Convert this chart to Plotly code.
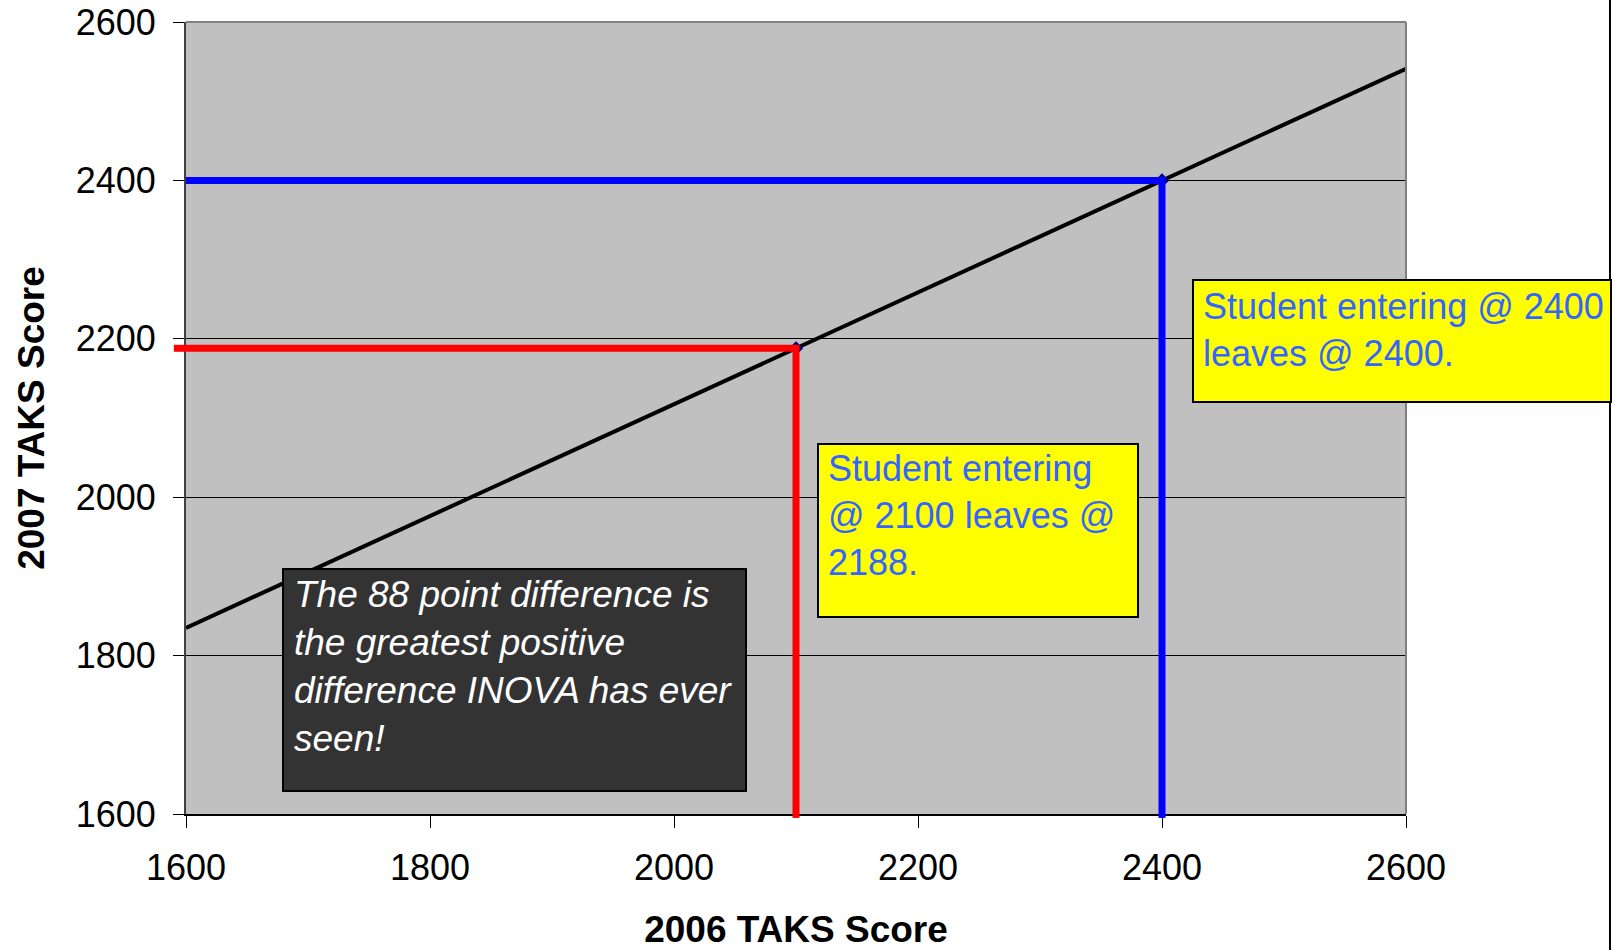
import plotly.graph_objects as go

# Scores for the two highlighted students
score_2006 = [2100, 2400]
score_2007 = [2188, 2400]

# Fitted trend across the plotted range
trend_2006 = [1600, 2600]
trend_2007 = [1835, 2541]

axis_min, axis_max = 1600, 2600
tick_vals = [1600, 1800, 2000, 2200, 2400, 2600]

note_2400 = "Student entering @ 2400<br>leaves @ 2400."
note_2100 = "Student entering<br>@ 2100 leaves @<br>2188."
note_88 = ("<i>The 88 point difference is<br>the greatest positive<br>"
           "difference INOVA has ever<br>seen!</i>")

FONT = "Liberation Sans, Arial, sans-serif"
RED = "#FF0000"
BLUE = "#0000FF"
NOTE_BLUE = "#3366FF"

fig = go.Figure()

fig.add_trace(go.Scatter(
    x=trend_2006, y=trend_2007, mode="lines",
    line=dict(color="black", width=4), hoverinfo="skip"))

fig.add_trace(go.Scatter(
    x=score_2006, y=score_2007, mode="markers",
    marker=dict(symbol="diamond", size=11, color="#000080"),
    cliponaxis=False))

# Guide lines from each student's point to both axes
guide_colors = [RED, BLUE]
for xv, yv, col in zip(score_2006, score_2007, guide_colors):
    fig.add_trace(go.Scatter(
        x=[axis_min, xv, xv], y=[yv, yv, axis_min], mode="lines",
        line=dict(color=col, width=7), hoverinfo="skip"))
    # short overhang past the bottom axis line
    fig.add_shape(type="line", xref="x", yref="paper",
                  x0=xv, x1=xv, y0=-0.005, y1=0.0,
                  line=dict(color=col, width=7), layer="above")

# red guide pokes slightly past the value axis
fig.add_shape(type="line", xref="paper", yref="y",
              x0=-0.01, x1=0.0, y0=score_2007[0], y1=score_2007[0],
              line=dict(color=RED, width=7), layer="above")

# plot-area frame (top and right) and outer chart border
fig.add_shape(type="line", xref="paper", yref="paper", x0=0, x1=1, y0=1, y1=1,
              line=dict(color="#808080", width=2))
fig.add_shape(type="line", xref="paper", yref="paper", x0=1, x1=1, y0=0, y1=1,
              line=dict(color="#808080", width=2))
fig.add_shape(type="line", xref="paper", yref="paper", x0=1.1672, x1=1.1672,
              y0=-0.3, y1=1.3, line=dict(color="black", width=2))


def callout(text, box_x, box_y, box_w, box_h, text_x, text_y, fill, size,
            color):
    # background box with border
    fig.add_annotation(
        text=" ", xref="x", yref="y", x=box_x, y=box_y,
        xanchor="left", yanchor="top", showarrow=False,
        width=box_w, height=box_h,
        bgcolor=fill, bordercolor="black", borderwidth=2, borderpad=9,
        font=dict(family=FONT, size=size, color=color))
    # text laid on top of the box
    fig.add_annotation(
        text=text, xref="x", yref="y", x=text_x, y=text_y,
        xanchor="left", yanchor="top", align="left", showarrow=False,
        borderpad=0, borderwidth=0,
        font=dict(family=FONT, size=size, color=color))


callout(note_2400, 2424.5, 2275, 398, 102, 2433.5, 2266.5,
        "#FFFF00", 36, NOTE_BLUE)
callout(note_2100, 2117, 2069, 300, 153, 2126, 2061.5,
        "#FFFF00", 36, NOTE_BLUE)
callout(note_88, 1678.5, 1910, 443, 202, 1688.5, 1903.5,
        "#333333", 37, "white")

fig.update_layout(
    width=1614, height=950,
    margin=dict(l=186, r=208, t=22, b=136),
    paper_bgcolor="white", plot_bgcolor="#C0C0C0",
    showlegend=False,
    font=dict(family=FONT, color="black"),
    xaxis=dict(
        range=[axis_min, axis_max], tickvals=tick_vals, automargin=False,
        showgrid=False, zeroline=False,
        showline=True, linecolor="black", linewidth=2,
        ticks="outside", ticklen=12, tickwidth=1, tickcolor="black",
        tickfont=dict(size=36, family=FONT, color="black"),
        ticklabelstandoff=9,
        title=dict(text="<b>2006 TAKS Score</b>", standoff=33,
                   font=dict(size=37, family=FONT, color="black"))),
    yaxis=dict(
        range=[axis_min, axis_max], tickvals=tick_vals, automargin=False,
        showgrid=True, gridcolor="black", gridwidth=1, zeroline=False,
        showline=True, linecolor="#404040", linewidth=2,
        ticks="outside", ticklen=11, tickwidth=1, tickcolor="black",
        tickfont=dict(size=36, family=FONT, color="black"),
        ticklabelstandoff=10,
        title=dict(text="<b>2007 TAKS Score</b>", standoff=20,
                   font=dict(size=37, family=FONT, color="black"))),
)

fig.write_html("out.html")
